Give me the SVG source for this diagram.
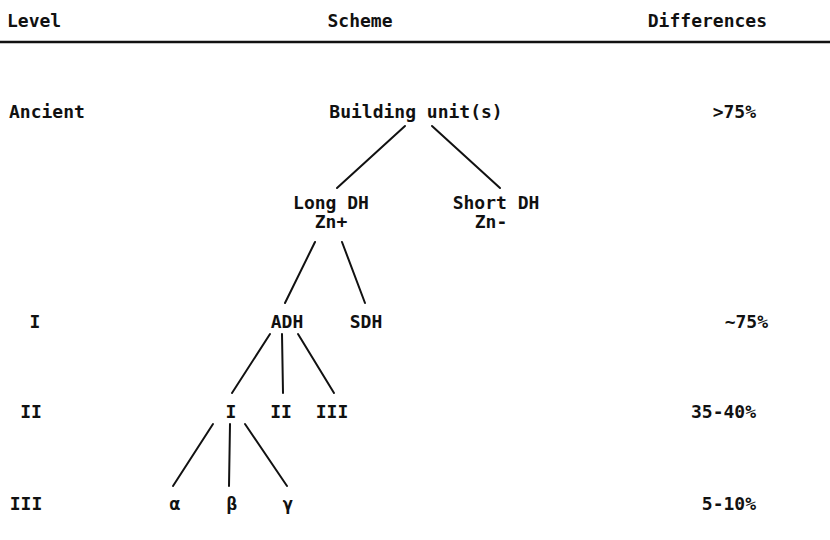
<svg xmlns="http://www.w3.org/2000/svg" width="830" height="540" viewBox="0 0 830 540">
  <style>
    text { font-family: "DejaVu Sans Mono", "Liberation Mono", monospace; font-weight: bold; font-size: 18px; fill: #111; }
    .mid { text-anchor: middle; }
    .end { text-anchor: end; }
    .edge { stroke: #111; stroke-width: 2; fill: none; stroke-linecap: round; }
    .rule { stroke: #111; stroke-width: 2.5; }
  </style>
  <rect width="830" height="540" fill="#fff"/>

  <!-- column headings -->
  <g id="header">
    <text x="7" y="27">Level</text>
    <text class="mid" x="360" y="27">Scheme</text>
    <text class="end" x="767" y="27">Differences</text>
    <line class="rule" x1="0" y1="42" x2="830" y2="42"/>
  </g>

  <!-- level names -->
  <g id="levels">
    <text x="9" y="118">Ancient</text>
    <text class="mid" x="35" y="328">I</text>
    <text class="mid" x="31" y="418">II</text>
    <text class="mid" x="26" y="510">III</text>
  </g>

  <!-- sequence differences per level -->
  <g id="differences">
    <text class="end" x="756" y="118">&gt;75%</text>
    <text class="end" x="768" y="328">~75%</text>
    <text class="end" x="756" y="418">35-40%</text>
    <text class="end" x="756" y="510">5-10%</text>
  </g>

  <!-- tree connectors -->
  <g id="connectors">
    <line class="edge" x1="405" y1="126" x2="337" y2="188"/>
    <line class="edge" x1="432" y1="126" x2="500" y2="188"/>
    <line class="edge" x1="315" y1="242" x2="285" y2="303"/>
    <line class="edge" x1="342" y1="242" x2="365" y2="303"/>
    <line class="edge" x1="270" y1="334" x2="232" y2="393"/>
    <line class="edge" x1="282" y1="334" x2="283" y2="393"/>
    <line class="edge" x1="298" y1="334" x2="334" y2="393"/>
    <line class="edge" x1="213" y1="424" x2="173" y2="486"/>
    <line class="edge" x1="230" y1="424" x2="229" y2="486"/>
    <line class="edge" x1="245" y1="424" x2="287" y2="486"/>
  </g>

  <!-- tree nodes -->
  <g id="node-building-units"><text class="mid" x="416" y="118">Building unit(s)</text></g>
  <g id="node-long-dh">
    <text class="mid" x="331" y="209">Long DH</text>
    <text class="mid" x="331" y="228">Zn+</text>
  </g>
  <g id="node-short-dh">
    <text class="mid" x="496" y="209">Short DH</text>
    <text class="mid" x="491" y="228">Zn-</text>
  </g>
  <g id="node-adh"><text class="mid" x="287" y="328">ADH</text></g>
  <g id="node-sdh"><text class="mid" x="366" y="328">SDH</text></g>
  <g id="node-class-i"><text class="mid" x="231" y="418">I</text></g>
  <g id="node-class-ii"><text class="mid" x="281" y="418">II</text></g>
  <g id="node-class-iii"><text class="mid" x="332" y="418">III</text></g>
  <g id="node-alpha"><text class="mid" x="175" y="510">α</text></g>
  <g id="node-beta"><text class="mid" x="232" y="510">β</text></g>
  <g id="node-gamma"><text class="mid" x="288" y="510">γ</text></g>
</svg>
